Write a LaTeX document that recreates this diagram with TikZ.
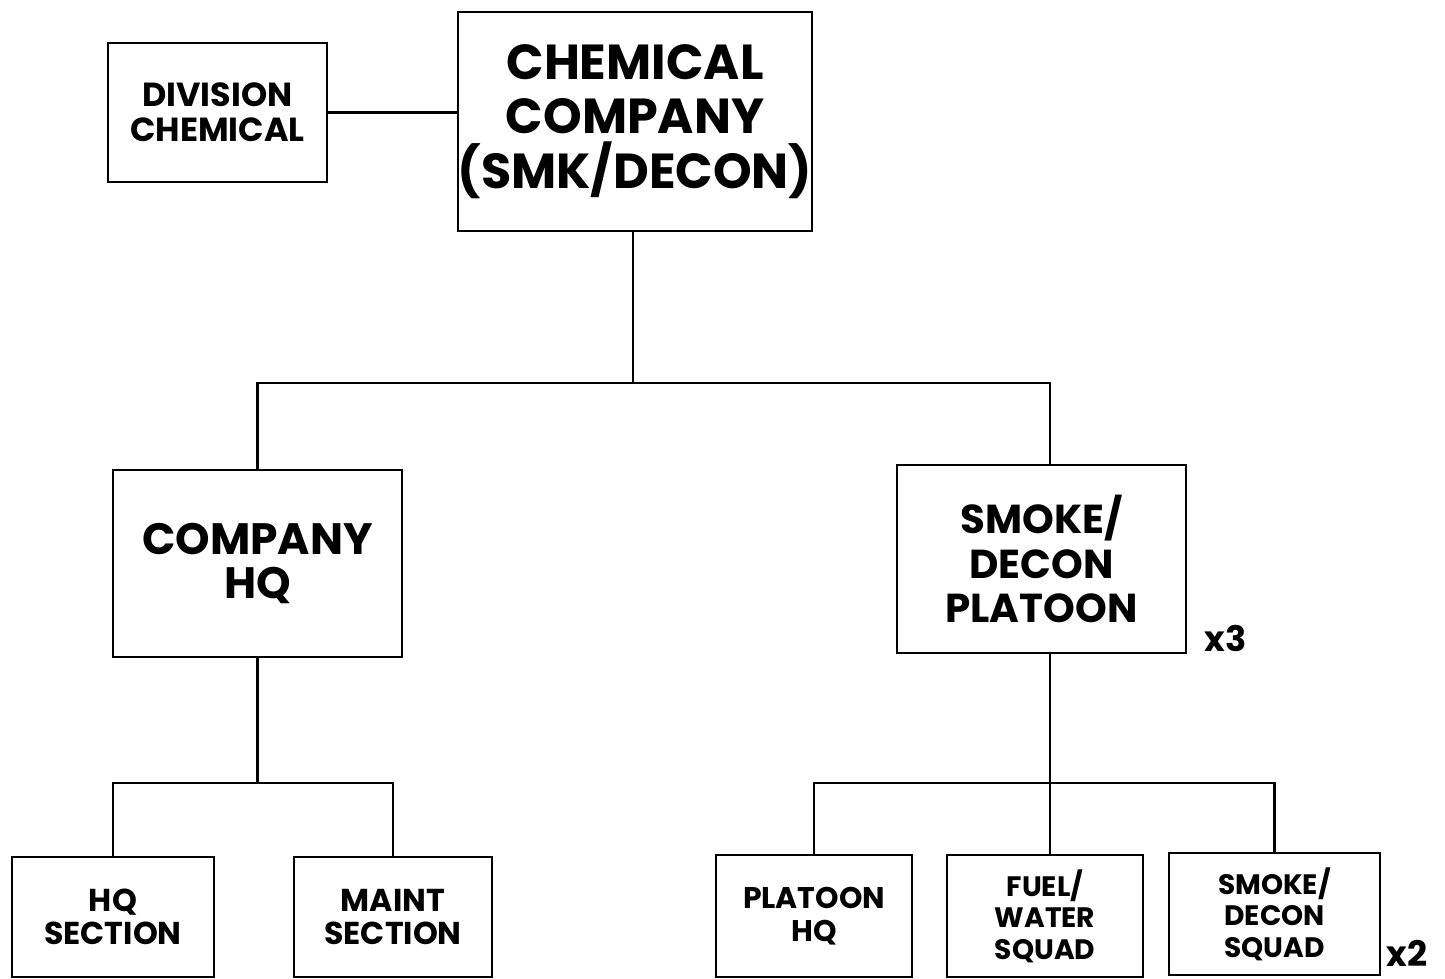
\documentclass[tikz,border=0pt]{standalone}
\usepackage{fontspec}
\setmainfont{Poppins}
\usepackage{tikz}
\usetikzlibrary{positioning}

\begin{document}
\begin{tikzpicture}[line width=1.2pt,
    unit/.style={draw, rectangle, align=center, inner sep=0pt, font=\bfseries},
    mult/.style={font=\bfseries\fontsize{20}{22}\selectfont, anchor=west}]
    \useasboundingbox (0,0) rectangle (28.9,19.58);
    % top level
    \node[unit, minimum width=7.08cm, minimum height=4.38cm,
          font=\bfseries\fontsize{28}{31}\selectfont] (chem) at (12.7,17.15)
          {CHEMICAL\\COMPANY\\(SMK/DECON)};
    \node[unit, minimum width=4.38cm, minimum height=2.78cm,
          font=\bfseries\fontsize{19}{20}\selectfont] (div) at (4.35,17.33)
          {DIVISION\\CHEMICAL};
    \draw (div.east) -- (div.east -| chem.west);
    % second level
    \node[unit, minimum width=5.78cm, minimum height=3.74cm,
          font=\bfseries\fontsize{25}{24.5}\selectfont] (hq) at (5.15,8.31)
          {COMPANY\\HQ};
    \node[unit, minimum width=5.78cm, minimum height=3.76cm,
          font=\bfseries\fontsize{23}{25.5}\selectfont] (plt) at (20.83,8.4)
          {SMOKE/\\DECON\\PLATOON};
    \node[mult] (x3) at (23.95,6.82) {x3};
    \coordinate (bus1) at (12.66,11.92);
    \draw (chem.south -| bus1) -- (bus1);
    \draw (hq.north) |- (bus1) -| (21.0,0 |- plt.north);
    % bottom level
    \node[unit, minimum width=4.04cm, minimum height=2.4cm,
          font=\bfseries\fontsize{18}{18.7}\selectfont] (hqsec) at (2.26,1.24)
          {HQ\\SECTION};
    \node[unit, minimum width=3.96cm, minimum height=2.4cm,
          font=\bfseries\fontsize{18}{18.7}\selectfont] (maint) at (7.86,1.24)
          {MAINT\\SECTION};
    \node[unit, minimum width=3.92cm, minimum height=2.44cm,
          font=\bfseries\fontsize{17}{18.7}\selectfont] (plthq) at (16.28,1.26)
          {PLATOON\\HQ};
    \node[unit, minimum width=3.92cm, minimum height=2.44cm,
          font=\bfseries\fontsize{16}{18}\selectfont] (fuel) at (20.9,1.26)
          {FUEL/\\WATER\\SQUAD};
    \node[unit, minimum width=4.22cm, minimum height=2.44cm,
          font=\bfseries\fontsize{16}{18}\selectfont] (sqd) at (25.49,1.3)
          {SMOKE/\\DECON\\SQUAD};
    \node[mult] (x2) at (27.6,0.52) {x2};
    \coordinate (bus2) at (5.15,3.92);
    \coordinate (bus3) at (21.0,3.92);
    \draw (hq.south) -- (bus2);
    \draw (hqsec.north) |- (bus2) -| (maint.north);
    \draw (plt.south -| bus3) -- (bus3);
    \draw (plthq.north) |- (bus3) -| (sqd.north);
    \draw (bus3) -- (bus3 |- fuel.north);
\end{tikzpicture}
\end{document}
